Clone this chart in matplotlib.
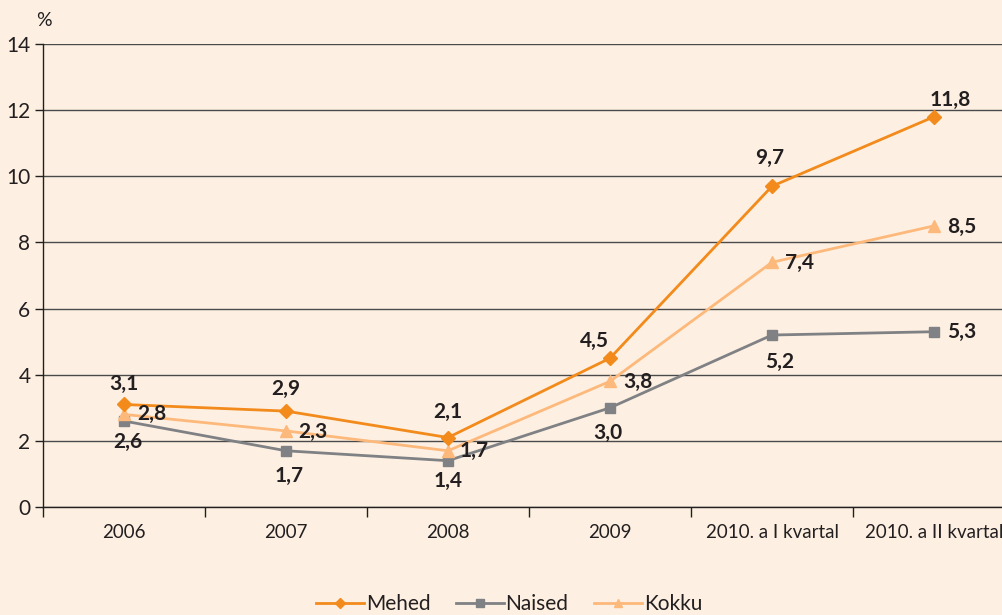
import numpy as np
import matplotlib.pyplot as plt
from matplotlib.ticker import FixedLocator

categories = ['2006', '2007', '2008', '2009', '2010. a I kvartal', '2010. a II kvartal']
mehed = [3.1, 2.9, 2.1, 4.5, 9.7, 11.8]
naised = [2.6, 1.7, 1.4, 3.0, 5.2, 5.3]
kokku = [2.8, 2.3, 1.7, 3.8, 7.4, 8.5]

# label offsets in pixels (dx, dy) per point
mehed_off = [(0, 21), (0, 22), (0, 26), (-16, 17), (-2, 28), (16, 17)]
naised_off = [(4, -21), (3, -25), (0, -20), (-2, -25), (8, -27), (28, 0)]
kokku_off = [(28, 0), (27, -1), (26, 0), (28, -1), (28, -1), (28, -1)]

BG = '#fdf0e2'
C_MEHED = '#f28a1c'
C_NAISED = '#808184'
C_KOKKU = '#fdb97b'
TXT = '#231f20'

plt.rcParams['font.family'] = ['Lato', 'DejaVu Sans']

fig = plt.figure(figsize=(10.03, 6.15), dpi=100, facecolor=BG)
ax = fig.add_axes([43 / 1003, 108 / 615, 960 / 1003, 463 / 615])
ax.set_facecolor(BG)

x = np.arange(len(categories))
series = [
    ('Mehed', mehed, C_MEHED, 'D', 7, mehed_off),
    ('Naised', naised, C_NAISED, 's', 7, naised_off),
    ('Kokku', kokku, C_KOKKU, '^', 8, kokku_off),
]
# draw order: naised, kokku, mehed on top
for name, vals, col, mk, ms, offs in [series[1], series[2], series[0]]:
    ax.plot(x, vals, color=col, lw=2, marker=mk, markersize=ms,
            markeredgecolor=col, label=name, zorder=3)

for name, vals, col, mk, ms, offs in series:
    for xi, v, (dx, dy) in zip(x, vals, offs):
        ax.annotate(f'{v:.1f}'.replace('.', ','), (xi, v),
                    xytext=(dx, dy), textcoords='offset pixels',
                    ha='center', va='center', fontsize=15,
                    fontweight='bold', color=TXT, zorder=4)

ax.set_ylim(0, 14)
ax.set_yticks(range(0, 15, 2))
ax.set_xlim(-0.5, (1003 - 43) / 162 - 0.5)
ax.set_xticks(x)
ax.set_xticklabels(categories)
ax.xaxis.set_minor_locator(FixedLocator(np.arange(-0.5, 6, 1.0)))
ax.tick_params(axis='x', which='major', length=0, pad=12, labelsize=13.5,
               labelcolor=TXT)
ax.tick_params(axis='x', which='minor', length=7, width=1, color=TXT)
ax.tick_params(axis='y', length=6, width=1, color=TXT, labelsize=15,
               labelcolor=TXT, pad=3)

ax.grid(axis='y', color='#4a4a4a', lw=1.0, zorder=1)
for s in ['top', 'right']:
    ax.spines[s].set_visible(False)
ax.spines['left'].set_color(TXT)
ax.spines['bottom'].set_color(TXT)
ax.spines['left'].set_linewidth(1)
ax.spines['bottom'].set_linewidth(1)
ax.set_axisbelow(True)

fig.text(36 / 1003, 1 - 20 / 615, '%', fontsize=14, color=TXT,
         ha='left', va='center')

handles, labels = ax.get_legend_handles_labels()
order = [labels.index(n) for n in ['Mehed', 'Naised', 'Kokku']]
leg = fig.legend([handles[i] for i in order], [labels[i] for i in order],
                 loc='center', bbox_to_anchor=(509 / 1003, 1 - 604 / 615),
                 ncol=3, frameon=False, fontsize=15, handlelength=2.3,
                 handletextpad=0.1, columnspacing=1.2, markerscale=0.75)
for t in leg.get_texts():
    t.set_color(TXT)

fig.savefig('out.png', dpi=100, facecolor=BG)
